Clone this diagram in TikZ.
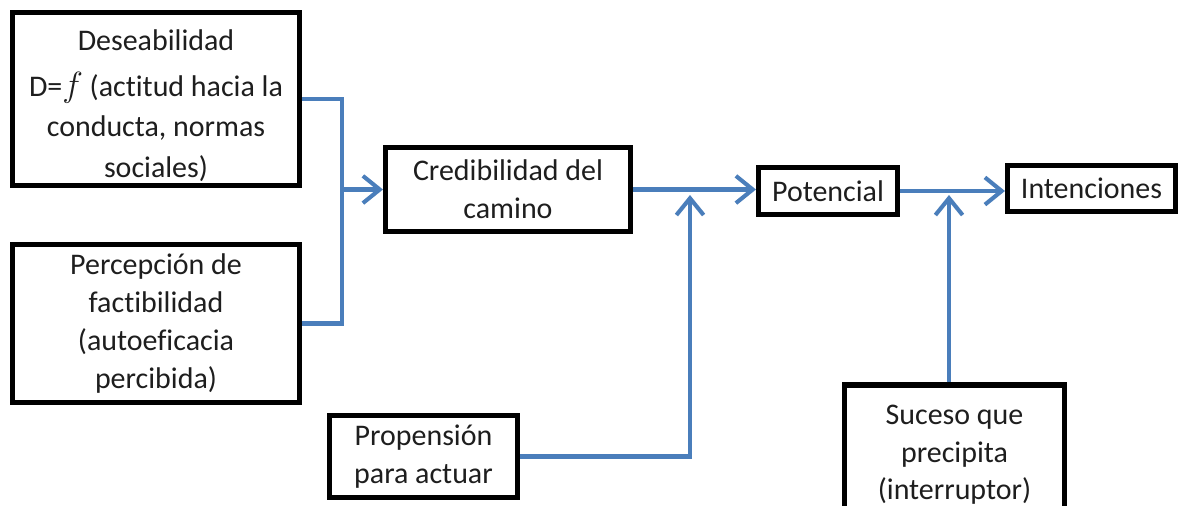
\documentclass[tikz,border=0pt]{standalone}
\usepackage{fontspec}
\setmainfont[Ligatures={NoCommon}]{Carlito}
\usetikzlibrary{arrows.meta,calc}
\definecolor{linkblue}{HTML}{4A7EBB}
\definecolor{inkgray}{HTML}{1E1E1E}

\begin{document}
\begin{tikzpicture}[x=0.025cm,y=-0.025cm,
  box/.style={draw=black, line width=3.6pt, fill=white, align=center,
    inner sep=0pt, text=inkgray, font=\fontsize{21.3}{26.8}\selectfont},
  link/.style={draw=linkblue, line width=2.9pt},
  arr/.style={link, -{Straight Barb[length=0.42cm,width=0.68cm,line width=2.9pt]}}]

  % page area
  \fill[white] (0,0) rectangle (1180,506);
  \clip (0,0) rectangle (1180,506);

  % boxes
  \node[box, minimum width=287*0.025cm, minimum height=173*0.025cm] (des) at (156,99)
    {\rule{0pt}{24pt}Deseabilidad\\[6pt]D={\fontsize{32}{32}\selectfont$f$} (actitud hacia la\\[1.5pt]conducta, normas\\[2pt]sociales)};
  \node[box, minimum width=287*0.025cm, minimum height=158*0.025cm] (per) at (156,323.5)
    {Percepción de\\factibilidad\\(autoeficacia\\percibida)};
  \node[box, minimum width=245*0.025cm, minimum height=84*0.025cm] (cre) at (508,189.5)
    {Credibilidad del\\camino};
  \node[box, minimum width=139*0.025cm, minimum height=47*0.025cm] (pot) at (828,191)
    {Potencial};
  \node[box, minimum width=168*0.025cm, minimum height=46*0.025cm] (int) at (1091.5,188.5)
    {Intenciones};
  \node[box, minimum width=188*0.025cm, minimum height=82*0.025cm] (pro) at (423.5,456.5)
    {Propensión\\para actuar};
  \node[box, minimum width=220*0.025cm, minimum height=140*0.025cm] (suc) at (954.5,455)
    {Suceso que\\precipita\\(interruptor)};

  % junction points on the flow lines
  \coordinate (j1) at (342,189.5);
  \coordinate (j2) at (690,195);
  \coordinate (j3) at (949,195);

  % connectors
  \draw[link] (des.east) -| (j1);
  \draw[link] (per.east) -| (j1);
  \draw[arr] (j1) -- (cre.west);
  \draw[arr] (cre.east) -- (cre.east -| pot.west);
  \draw[arr] (pro.east) -| (j2);
  \draw[arr] (pot.east) -- (pot.east -| int.west);
  \draw[arr] (suc.north -| j3) -- (j3);
\end{tikzpicture}
\end{document}
